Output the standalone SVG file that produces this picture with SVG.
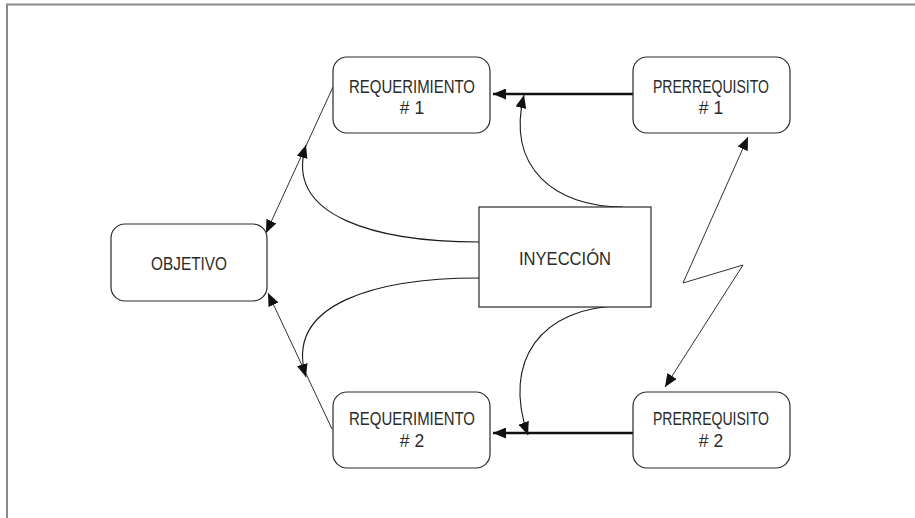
<svg xmlns="http://www.w3.org/2000/svg" width="915" height="518" viewBox="0 0 915 518">
  <style>
    .box { fill: #ffffff; stroke: #2a2a2a; stroke-width: 1.2; }
    .lbl { font-family: "Liberation Sans", Arial, sans-serif; font-size: 17.5px; fill: #2a2a2a; text-anchor: middle; }
    .thin { fill: none; stroke: #1a1a1a; stroke-width: 0.9; }
    .curve { fill: none; stroke: #1a1a1a; stroke-width: 1.1; }
    .thick { fill: none; stroke: #111111; stroke-width: 2.6; }
  </style>
  <defs>
    <marker id="head" markerUnits="userSpaceOnUse" markerWidth="14" markerHeight="11" refX="13" refY="5.5" orient="auto-start-reverse" viewBox="0 0 14 11">
      <path d="M0,0 L13,5.5 L0,11 z" fill="#111111"/>
    </marker>
  </defs>

  <rect width="915" height="518" fill="#ffffff"/>
  <!-- page frame -->
  <path d="M7,518 V4.5 H915" fill="none" stroke="#8a8a8a" stroke-width="2"/>

  <g id="connectors">
    <!-- prerequisites to requirements -->
    <path class="thick" d="M633,94 H493" marker-end="url(#head)"/>
    <path class="thick" d="M633,433 H493" marker-end="url(#head)"/>
    <!-- requirements to objective -->
    <path class="thin" d="M333,87 L266,233" marker-end="url(#head)"/>
    <path class="thin" d="M332,429 L268,293" marker-end="url(#head)"/>
    <!-- injection to requirement links -->
    <path class="curve" d="M623,207 C555,207 506,168 524,95" marker-end="url(#head)"/>
    <path class="curve" d="M479,242 C380,242 283,218 306,145" marker-end="url(#head)"/>
    <path class="curve" d="M479,278 C380,278 283,302 306,377" marker-end="url(#head)"/>
    <path class="curve" d="M623,306 C540,306 502,362 528,435" marker-end="url(#head)"/>
    <!-- conflict between prerequisites -->
    <path class="thin" d="M748,137 L683,283 L743,265 L665,387" marker-start="url(#head)" marker-end="url(#head)"/>
  </g>

  <g id="objetivo">
    <rect class="box" x="111" y="224" width="156" height="77" rx="14"/>
    <text class="lbl" x="189" y="270" textLength="76" lengthAdjust="spacingAndGlyphs">OBJETIVO</text>
  </g>

  <g id="requerimiento1">
    <rect class="box" x="333" y="57" width="157" height="76" rx="14"/>
    <text class="lbl" x="412" y="92.5" textLength="126" lengthAdjust="spacingAndGlyphs">REQUERIMIENTO</text>
    <text class="lbl" x="412" y="114"># 1</text>
  </g>

  <g id="requerimiento2">
    <rect class="box" x="333" y="392" width="157" height="76" rx="14"/>
    <text class="lbl" x="412" y="425" textLength="126" lengthAdjust="spacingAndGlyphs">REQUERIMIENTO</text>
    <text class="lbl" x="412" y="447"># 2</text>
  </g>

  <g id="prerrequisito1">
    <rect class="box" x="633" y="57" width="157" height="76" rx="14"/>
    <text class="lbl" x="711" y="92.5" textLength="116" lengthAdjust="spacingAndGlyphs">PRERREQUISITO</text>
    <text class="lbl" x="711" y="114"># 1</text>
  </g>

  <g id="prerrequisito2">
    <rect class="box" x="633" y="392" width="157" height="76" rx="14"/>
    <text class="lbl" x="711" y="425" textLength="116" lengthAdjust="spacingAndGlyphs">PRERREQUISITO</text>
    <text class="lbl" x="711" y="447"># 2</text>
  </g>

  <g id="inyeccion">
    <rect class="box" x="479" y="207" width="172" height="100" rx="0"/>
    <text class="lbl" x="565" y="265" textLength="92" lengthAdjust="spacingAndGlyphs">INYECCIÓN</text>
  </g>
</svg>
